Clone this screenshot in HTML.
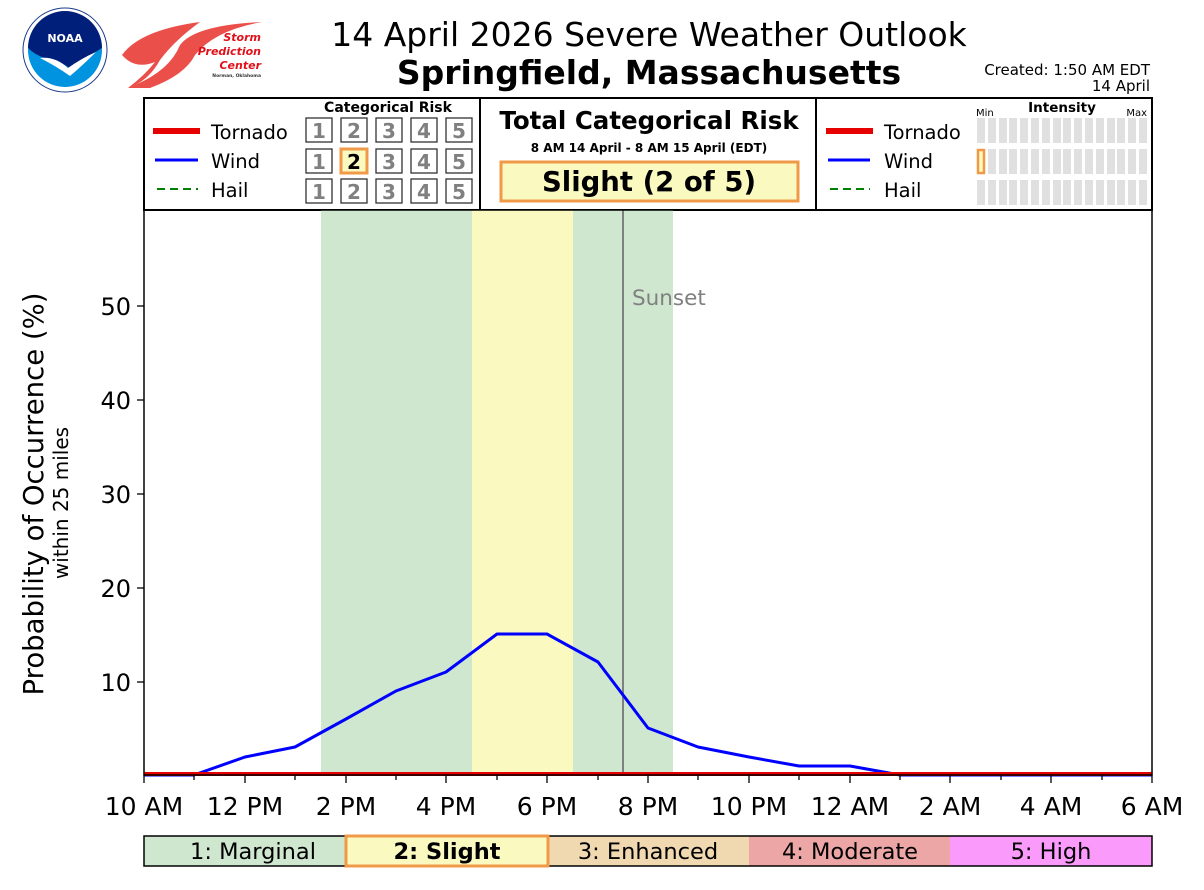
<!DOCTYPE html>
<html><head><meta charset="utf-8"><style>
html,body{margin:0;padding:0;background:#fff;}
svg{display:block;font-family:"DejaVu Sans","Liberation Sans",sans-serif;}
</style></head><body>
<svg width="1204" height="890" viewBox="0 0 1204 890" xmlns="http://www.w3.org/2000/svg">
<rect width="1204" height="890" fill="#fff"/>
<!-- NOAA logo -->
<circle cx="65" cy="50" r="42" fill="#fff" stroke="#1a3a8a" stroke-width="1"/>
<circle cx="65" cy="50" r="37" fill="#0093e0"/>
<path d="M28,48 A37,37 0 0 1 102,48 Q85,58 72,70 Q60,60 45,58 Q35,55 28,48Z" fill="#001f7a"/>
<path d="M40,58 Q55,56 68,68 Q82,58 96,52 Q82,66 70,76 Q56,66 40,58Z" fill="#fff"/>
<text x="65" y="42" font-size="11" font-weight="bold" fill="#fff" text-anchor="middle">NOAA</text>
<!-- SPC logo -->
<path d="M122,55 Q140,30 200,22 Q175,40 160,60 Q150,78 135,85 Q170,70 180,45 Q195,25 262,22 Q215,30 195,55 Q185,75 150,88 L128,88 Q145,75 155,62 Q135,70 122,55Z" fill="#e8302a" opacity="0.85"/>
<text x="261" y="41" font-size="11" font-weight="bold" font-style="italic" fill="#e0101a" text-anchor="end">Storm</text>
<text x="261" y="55" font-size="11" font-weight="bold" font-style="italic" fill="#e0101a" text-anchor="end">Prediction</text>
<text x="261" y="69" font-size="11" font-weight="bold" font-style="italic" fill="#e0101a" text-anchor="end">Center</text>
<text x="261" y="77" font-size="4.5" font-weight="bold" fill="#333" text-anchor="end">Norman, Oklahoma</text>
<!-- Titles -->
<text x="649" y="46" font-size="33" text-anchor="middle">14 April 2026 Severe Weather Outlook</text>
<text x="649" y="84" font-size="33" font-weight="bold" text-anchor="middle">Springfield, Massachusetts</text>
<text x="1150" y="75" font-size="15" text-anchor="end">Created: 1:50 AM EDT</text>
<text x="1150" y="91" font-size="15" text-anchor="end">14 April</text>
<!-- Header panel -->
<rect x="144" y="98" width="1008" height="112" fill="none" stroke="#000" stroke-width="2"/>
<line x1="480" y1="98" x2="480" y2="210" stroke="#000" stroke-width="2"/>
<line x1="816" y1="98" x2="816" y2="210" stroke="#000" stroke-width="2"/>
<!-- left legend -->
<line x1="153" y1="131" x2="200" y2="131" stroke="#e60000" stroke-width="6"/>
<line x1="155" y1="160" x2="198" y2="160" stroke="#0000ff" stroke-width="3"/>
<line x1="157" y1="189" x2="198" y2="189" stroke="#008000" stroke-width="2" stroke-dasharray="8,5"/>
<text x="211" y="139" font-size="19.5">Tornado</text>
<text x="211" y="168" font-size="19.5">Wind</text>
<text x="211" y="197" font-size="19.5">Hail</text>
<text x="388" y="112" font-size="14" font-weight="bold" text-anchor="middle">Categorical Risk</text>
<g font-size="20" font-weight="bold" fill="#808080" text-anchor="middle">
<g stroke="#333" stroke-width="1.3" fill="#fff">
<rect x="306" y="118" width="26" height="24"/><rect x="341" y="118" width="26" height="24"/><rect x="376" y="118" width="26" height="24"/><rect x="411" y="118" width="26" height="24"/><rect x="446" y="118" width="26" height="24"/>
<rect x="306" y="149" width="26" height="24"/><rect x="376" y="149" width="26" height="24"/><rect x="411" y="149" width="26" height="24"/><rect x="446" y="149" width="26" height="24"/>
<rect x="306" y="179" width="26" height="24"/><rect x="341" y="179" width="26" height="24"/><rect x="376" y="179" width="26" height="24"/><rect x="411" y="179" width="26" height="24"/><rect x="446" y="179" width="26" height="24"/>
</g>
<rect x="341" y="149" width="26" height="24" fill="#fafac0" stroke="#f09a48" stroke-width="3"/>
<text x="319" y="138">1</text><text x="354" y="138">2</text><text x="389" y="138">3</text><text x="424" y="138">4</text><text x="459" y="138">5</text>
<text x="319" y="169">1</text><text x="354" y="169" fill="#000">2</text><text x="389" y="169">3</text><text x="424" y="169">4</text><text x="459" y="169">5</text>
<text x="319" y="199">1</text><text x="354" y="199">2</text><text x="389" y="199">3</text><text x="424" y="199">4</text><text x="459" y="199">5</text>
</g>
<!-- center -->
<text x="649" y="129" font-size="24.5" font-weight="bold" text-anchor="middle">Total Categorical Risk</text>
<text x="649" y="152" font-size="12" font-weight="bold" text-anchor="middle">8 AM 14 April - 8 AM 15 April (EDT)</text>
<rect x="501" y="162" width="297" height="39" fill="#fafac0" stroke="#f09a48" stroke-width="3"/>
<text x="649" y="191" font-size="27.5" font-weight="bold" text-anchor="middle">Slight (2 of 5)</text>
<!-- right legend -->
<line x1="826" y1="131" x2="873" y2="131" stroke="#e60000" stroke-width="6"/>
<line x1="828" y1="160" x2="870" y2="160" stroke="#0000ff" stroke-width="3"/>
<line x1="830" y1="189" x2="870" y2="189" stroke="#008000" stroke-width="2" stroke-dasharray="8,5"/>
<text x="884" y="139" font-size="19.5">Tornado</text>
<text x="884" y="168" font-size="19.5">Wind</text>
<text x="884" y="197" font-size="19.5">Hail</text>
<text x="1062" y="112" font-size="13.5" font-weight="bold" text-anchor="middle">Intensity</text>
<text x="976" y="116" font-size="10">Min</text>
<text x="1147" y="116" font-size="10" text-anchor="end">Max</text>
<g fill="#e0e0e0">
<rect x="977" y="118" width="8" height="25"/><rect x="988" y="118" width="8" height="25"/><rect x="999" y="118" width="8" height="25"/><rect x="1009" y="118" width="8" height="25"/><rect x="1020" y="118" width="8" height="25"/><rect x="1031" y="118" width="8" height="25"/><rect x="1042" y="118" width="8" height="25"/><rect x="1053" y="118" width="8" height="25"/><rect x="1063" y="118" width="8" height="25"/><rect x="1074" y="118" width="8" height="25"/><rect x="1085" y="118" width="8" height="25"/><rect x="1096" y="118" width="8" height="25"/><rect x="1107" y="118" width="8" height="25"/><rect x="1117" y="118" width="8" height="25"/><rect x="1128" y="118" width="8" height="25"/><rect x="1139" y="118" width="8" height="25"/>
<rect x="988" y="149" width="8" height="25"/><rect x="999" y="149" width="8" height="25"/><rect x="1009" y="149" width="8" height="25"/><rect x="1020" y="149" width="8" height="25"/><rect x="1031" y="149" width="8" height="25"/><rect x="1042" y="149" width="8" height="25"/><rect x="1053" y="149" width="8" height="25"/><rect x="1063" y="149" width="8" height="25"/><rect x="1074" y="149" width="8" height="25"/><rect x="1085" y="149" width="8" height="25"/><rect x="1096" y="149" width="8" height="25"/><rect x="1107" y="149" width="8" height="25"/><rect x="1117" y="149" width="8" height="25"/><rect x="1128" y="149" width="8" height="25"/><rect x="1139" y="149" width="8" height="25"/>
<rect x="977" y="180" width="8" height="25"/><rect x="988" y="180" width="8" height="25"/><rect x="999" y="180" width="8" height="25"/><rect x="1009" y="180" width="8" height="25"/><rect x="1020" y="180" width="8" height="25"/><rect x="1031" y="180" width="8" height="25"/><rect x="1042" y="180" width="8" height="25"/><rect x="1053" y="180" width="8" height="25"/><rect x="1063" y="180" width="8" height="25"/><rect x="1074" y="180" width="8" height="25"/><rect x="1085" y="180" width="8" height="25"/><rect x="1096" y="180" width="8" height="25"/><rect x="1107" y="180" width="8" height="25"/><rect x="1117" y="180" width="8" height="25"/><rect x="1128" y="180" width="8" height="25"/><rect x="1139" y="180" width="8" height="25"/>
</g>
<rect x="978" y="150" width="6" height="23" fill="#fafac0" stroke="#f09a48" stroke-width="2.5"/>
<!-- plot bands -->
<rect x="321" y="210" width="151" height="565" fill="#cfe7cf"/>
<rect x="472" y="210" width="101" height="565" fill="#fafac0"/>
<rect x="573" y="210" width="100" height="565" fill="#cfe7cf"/>
<line x1="623" y1="210" x2="623" y2="775" stroke="#808080" stroke-width="2"/>
<text x="632" y="305" font-size="21.5" fill="#808080">Sunset</text>
<!-- series -->
<polyline fill="none" stroke="#0000ff" stroke-width="3" stroke-linejoin="round" points="144,775 194,775 245,757 295,747 346,719 396,691 446,672 497,634 547,634 598,662 648,728 698,747 749,757 799,766 850,766 900,775 1152,775"/>
<line x1="144" y1="774" x2="1152" y2="774" stroke="#e60000" stroke-width="4"/>
<!-- axes -->
<rect x="144" y="210" width="1008" height="565" fill="none" stroke="#000" stroke-width="1.5"/>
<g stroke="#000" stroke-width="1.3">
<line x1="144" y1="775" x2="144" y2="783"/><line x1="245" y1="775" x2="245" y2="783"/><line x1="346" y1="775" x2="346" y2="783"/><line x1="446" y1="775" x2="446" y2="783"/><line x1="547" y1="775" x2="547" y2="783"/><line x1="648" y1="775" x2="648" y2="783"/><line x1="749" y1="775" x2="749" y2="783"/><line x1="850" y1="775" x2="850" y2="783"/><line x1="950" y1="775" x2="950" y2="783"/><line x1="1051" y1="775" x2="1051" y2="783"/><line x1="1152" y1="775" x2="1152" y2="783"/>
<line x1="194" y1="775" x2="194" y2="780"/><line x1="295" y1="775" x2="295" y2="780"/><line x1="396" y1="775" x2="396" y2="780"/><line x1="497" y1="775" x2="497" y2="780"/><line x1="598" y1="775" x2="598" y2="780"/><line x1="698" y1="775" x2="698" y2="780"/><line x1="799" y1="775" x2="799" y2="780"/><line x1="900" y1="775" x2="900" y2="780"/><line x1="1001" y1="775" x2="1001" y2="780"/><line x1="1102" y1="775" x2="1102" y2="780"/>
<line x1="137" y1="682" x2="144" y2="682"/><line x1="137" y1="588" x2="144" y2="588"/><line x1="137" y1="494" x2="144" y2="494"/><line x1="137" y1="400" x2="144" y2="400"/><line x1="137" y1="306" x2="144" y2="306"/>
</g>
<g font-size="24" text-anchor="end">
<text x="131" y="691">10</text><text x="131" y="597">20</text><text x="131" y="503">30</text><text x="131" y="409">40</text><text x="131" y="315">50</text>
</g>
<g font-size="25" text-anchor="middle">
<text x="144" y="815">10 AM</text><text x="245" y="815">12 PM</text><text x="346" y="815">2 PM</text><text x="446" y="815">4 PM</text><text x="547" y="815">6 PM</text><text x="648" y="815">8 PM</text><text x="749" y="815">10 PM</text><text x="850" y="815">12 AM</text><text x="950" y="815">2 AM</text><text x="1051" y="815">4 AM</text><text x="1152" y="815">6 AM</text>
</g>
<text transform="translate(43,494) rotate(-90)" font-size="27.5" text-anchor="middle">Probability of Occurrence (%)</text>
<text transform="translate(68,503) rotate(-90)" font-size="20" text-anchor="middle">within 25 miles</text>
<!-- bottom category bar -->
<rect x="144" y="836" width="202" height="30" fill="#cfe7cf"/>
<rect x="346" y="836" width="202" height="30" fill="#fafac0"/>
<rect x="547" y="836" width="202" height="30" fill="#f0d8b0"/>
<rect x="749" y="836" width="202" height="30" fill="#eca6a6"/>
<rect x="950" y="836" width="202" height="30" fill="#fa9afa"/>
<rect x="144" y="836" width="1008" height="30" fill="none" stroke="#000" stroke-width="1.5"/>
<rect x="346" y="836" width="202" height="30" fill="none" stroke="#f09a48" stroke-width="3"/>
<g font-size="22.5" text-anchor="middle">
<text x="253" y="859">1: Marginal</text>
<text x="447" y="859" font-weight="bold">2: Slight</text>
<text x="648" y="859">3: Enhanced</text>
<text x="850" y="859">4: Moderate</text>
<text x="1051" y="859">5: High</text>
</g>
</svg>
</body></html>
